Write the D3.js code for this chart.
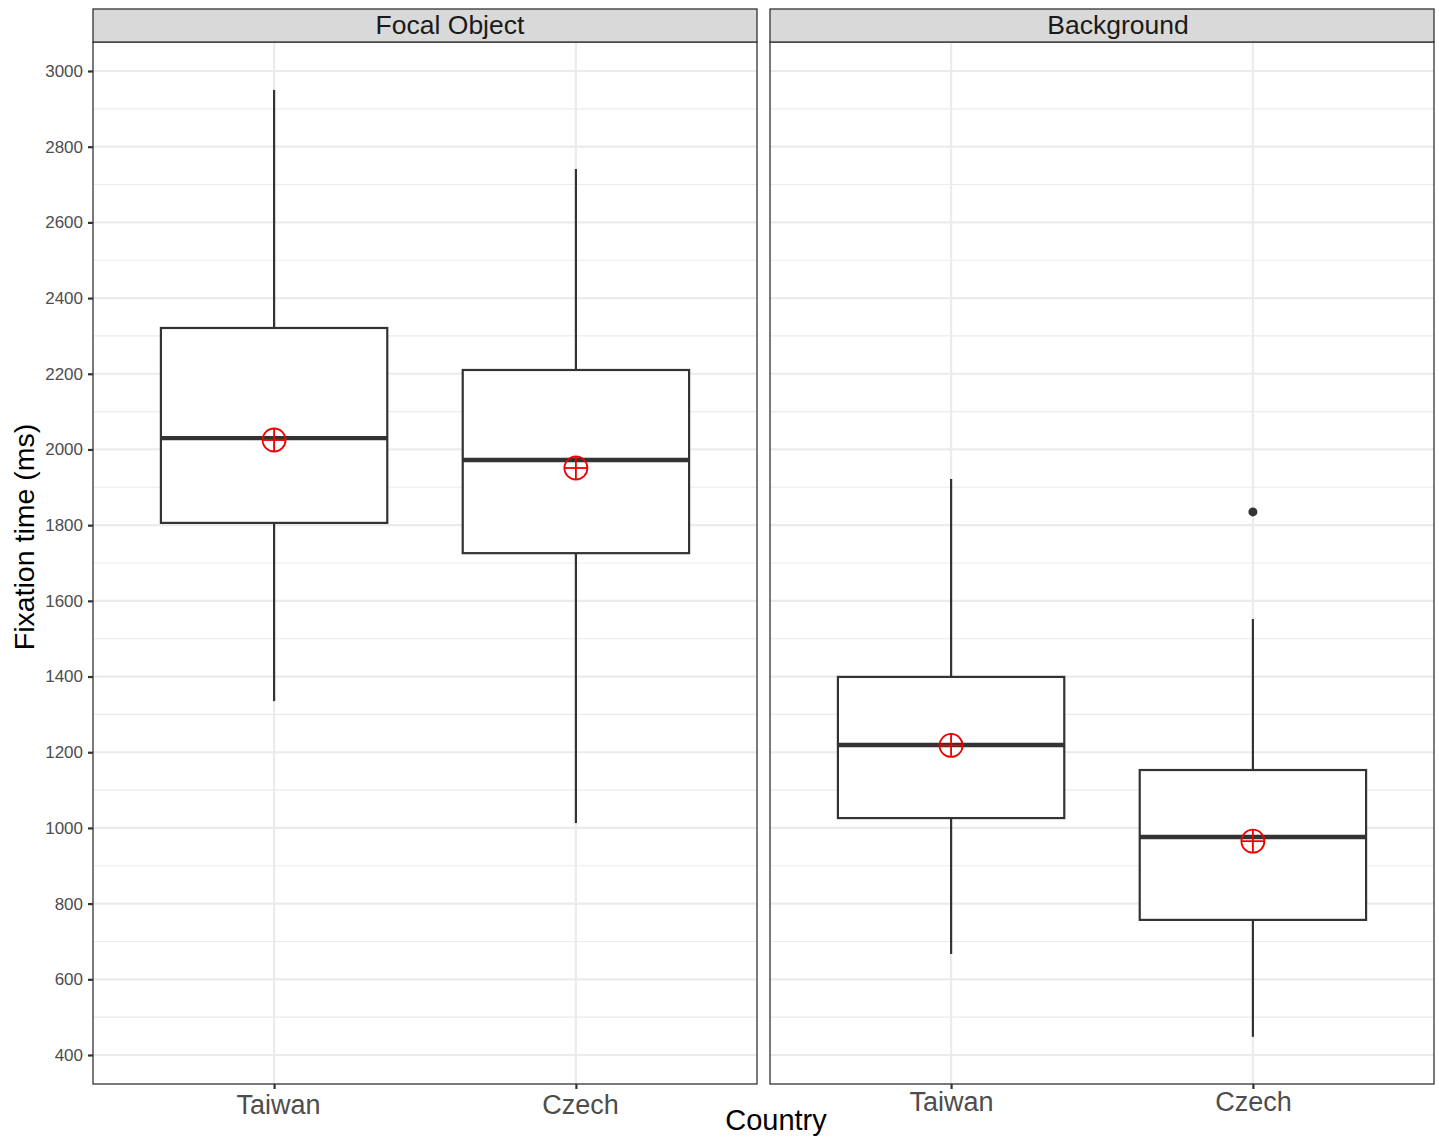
<!DOCTYPE html>
<html>
<head>
<meta charset="utf-8">
<script src="https://cdn.jsdelivr.net/npm/d3@7"></script>
<style>
  html, body { margin: 0; padding: 0; background: #fff; }
  svg { display: block; font-family: "Liberation Sans", Arial, sans-serif; }
</style>
</head>
<body>
<svg id="chart" width="1439" height="1137"></svg>
<script>
// Facets, countries and box-plot summaries (ms)
const facets = ["Focal Object", "Background"];
const countries = ["Taiwan", "Czech"];
const yTicks = [400, 600, 800, 1000, 1200, 1400, 1600, 1800, 2000, 2200, 2400, 2600, 2800, 3000];

const whiskerLow  = [[1335, 1013], [667, 448]];
const q1          = [[1806, 1726], [1026, 757]];
const median      = [[2030, 1972], [1219, 976]];
const q3          = [[2321, 2210], [1399, 1153]];
const whiskerHigh = [[2950, 2741], [1922, 1552]];
const means       = [[2025, 1951], [1218, 965]];
const outliers    = [[[], []], [[], [1835]]];

const svg = d3.select("#chart");

const panelTop = 42, panelBottom = 1084;
const panels = [{x0: 93, x1: 757}, {x0: 770, x1: 1434}];
const stripTop = 9;
const stripShift = [25, 16];
const labelShift = [4, 0];
const labelPad = [6, 3];

const y = d3.scaleLinear().domain([400, 3000]).range([1055, 71]);
const yMinor = d3.range(500, 3000, 200);

panels.forEach((p, fi) => {
  const g = svg.append("g");
  const x = d3.scalePoint().domain(countries).range([p.x0, p.x1]).padding(0.6);
  const bw = (x.step()) * 0.75;

  // background + grid
  g.append("rect").attr("x", p.x0).attr("y", panelTop).attr("width", p.x1 - p.x0)
    .attr("height", panelBottom - panelTop).attr("fill", "#fff");
  g.selectAll(".ymin").data(yMinor).join("line")
    .attr("x1", p.x0).attr("x2", p.x1).attr("y1", d => y(d)).attr("y2", d => y(d))
    .attr("stroke", "#ebebeb").attr("stroke-width", 1.1);
  g.selectAll(".ymaj").data(yTicks).join("line")
    .attr("x1", p.x0).attr("x2", p.x1).attr("y1", d => y(d)).attr("y2", d => y(d))
    .attr("stroke", "#ebebeb").attr("stroke-width", 2.2);
  g.selectAll(".xmaj").data(countries).join("line")
    .attr("x1", d => x(d)).attr("x2", d => x(d)).attr("y1", panelTop).attr("y2", panelBottom)
    .attr("stroke", "#ebebeb").attr("stroke-width", 2.2);

  // boxes
  countries.forEach((c, ci) => {
    const cx = x(c);
    g.append("line").attr("x1", cx).attr("x2", cx)
      .attr("y1", y(whiskerHigh[fi][ci])).attr("y2", y(q3[fi][ci]))
      .attr("stroke", "#333").attr("stroke-width", 2.2);
    g.append("line").attr("x1", cx).attr("x2", cx)
      .attr("y1", y(q1[fi][ci])).attr("y2", y(whiskerLow[fi][ci]))
      .attr("stroke", "#333").attr("stroke-width", 2.2);
    g.append("rect").attr("x", cx - bw / 2).attr("y", y(q3[fi][ci]))
      .attr("width", bw).attr("height", y(q1[fi][ci]) - y(q3[fi][ci]))
      .attr("fill", "#fff").attr("stroke", "#333").attr("stroke-width", 2.2);
    g.append("line").attr("x1", cx - bw / 2).attr("x2", cx + bw / 2)
      .attr("y1", y(median[fi][ci])).attr("y2", y(median[fi][ci]))
      .attr("stroke", "#333").attr("stroke-width", 4.4);
    outliers[fi][ci].forEach(v => {
      g.append("circle").attr("cx", cx).attr("cy", y(v)).attr("r", 4.5).attr("fill", "#333");
    });
    // mean marker: circle with cross
    const my = y(means[fi][ci]);
    const r = 11.5;
    g.append("circle").attr("cx", cx).attr("cy", my).attr("r", r)
      .attr("fill", "none").attr("stroke", "#ee0000").attr("stroke-width", 1.8);
    g.append("line").attr("x1", cx - r).attr("x2", cx + r).attr("y1", my).attr("y2", my)
      .attr("stroke", "#ee0000").attr("stroke-width", 1.8);
    g.append("line").attr("x1", cx).attr("x2", cx).attr("y1", my - r).attr("y2", my + r)
      .attr("stroke", "#ee0000").attr("stroke-width", 1.8);
  });

  // panel border
  g.append("rect").attr("x", p.x0).attr("y", panelTop).attr("width", p.x1 - p.x0)
    .attr("height", panelBottom - panelTop).attr("fill", "none")
    .attr("stroke", "#333").attr("stroke-width", 1.3);

  // strip
  g.append("rect").attr("x", p.x0).attr("y", stripTop).attr("width", p.x1 - p.x0)
    .attr("height", panelTop - stripTop).attr("fill", "#d9d9d9")
    .attr("stroke", "#333").attr("stroke-width", 1.3);
  g.append("text").attr("x", (p.x0 + p.x1) / 2 + stripShift[fi]).attr("y", stripTop + 25)
    .attr("text-anchor", "middle").attr("font-size", 26.5).attr("fill", "#1a1a1a")
    .text(facets[fi]);

  // x axis
  const xAxis = d3.axisBottom(x).tickSize(5).tickPadding(labelPad[fi]);
  const xa = g.append("g").attr("transform", `translate(0,${panelBottom})`).call(xAxis);
  xa.select(".domain").remove();
  xa.selectAll(".tick line").attr("stroke", "#333").attr("stroke-width", 2.2);
  xa.selectAll(".tick text").attr("font-size", 27).attr("fill", "#4d4d4d")
    .attr("font-family", "Liberation Sans, Arial, sans-serif")
    .attr("dx", labelShift[fi]);
});

// y axis on the left panel
const yAxis = d3.axisLeft(y).tickValues(yTicks).tickFormat(d3.format("d"))
  .tickSize(5).tickPadding(5);
const ya = svg.append("g").attr("transform", `translate(${panels[0].x0},0)`).call(yAxis);
ya.select(".domain").remove();
ya.selectAll(".tick line").attr("stroke", "#333").attr("stroke-width", 2.2);
ya.selectAll(".tick text").attr("font-size", 17).attr("fill", "#4d4d4d")
  .attr("font-family", "Liberation Sans, Arial, sans-serif");

// axis titles
svg.append("text").attr("x", 776).attr("y", 1130).attr("text-anchor", "middle")
  .attr("font-size", 29).attr("fill", "#000").text("Country");
svg.append("text").attr("transform", "translate(34,537) rotate(-90)")
  .attr("text-anchor", "middle").attr("font-size", 28.5).attr("fill", "#000")
  .text("Fixation time (ms)");
</script>
</body>
</html>
